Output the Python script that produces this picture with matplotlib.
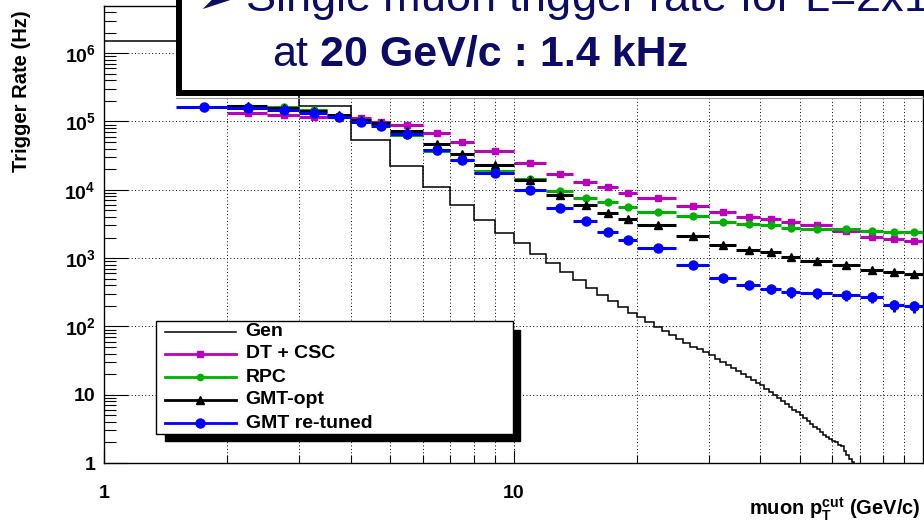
import numpy as np
import matplotlib
matplotlib.use('Agg')
from matplotlib import pyplot as plt
from matplotlib.patches import Rectangle
from matplotlib.lines import Line2D
from matplotlib.ticker import FixedLocator, FixedFormatter, NullFormatter

plt.rcParams['font.family'] = ['Liberation Sans', 'DejaVu Sans']
plt.rcParams['mathtext.fontset'] = 'custom'
plt.rcParams['mathtext.rm'] = 'Liberation Sans'
plt.rcParams['mathtext.bf'] = 'Liberation Sans:bold'
plt.rcParams['mathtext.it'] = 'Liberation Sans:italic'

# generated rate, 1 GeV bins from 1 to 69 GeV/c
gen_edges = np.arange(1, 70)
gen_rate = [1.5e6, 5.0e5, 1.69e5, 5.36e4, 2.25e4, 1.11e4, 5.99e3, 3.61e3, 2.35e3, 1.65e3,
            1.15e3, 839, 632, 478, 369, 288, 236, 190, 159, 136,
            116, 99, 86.6, 75.6, 66, 57.7, 50.5, 46.2, 42, 37.5,
            33.5, 30, 27, 24.5, 22, 20, 18, 16.5, 15, 14,
            12.3, 10.8, 9.8, 8.9, 8.1, 7.3, 6.6, 6.0, 5.5, 5.0,
            4.5, 4.1, 3.7, 3.4, 3.1, 2.85, 2.6, 2.4, 2.25, 2.1,
            2.0, 1.85, 1.75, 1.5, 1.3, 1.15, 1.05, 0.8]

# trigger threshold bins
pt_edges = [1.5, 2, 2.5, 3, 3.5, 4, 4.5, 5, 6, 7, 8, 10, 12, 14, 16, 18, 20,
            25, 30, 35, 40, 45, 50, 60, 70, 80, 90, 100]

dtcsc = [np.nan, 1.32e5, 1.24e5, 1.17e5, 1.15e5, 1.11e5, 9.9e4, 8.9e4, 6.7e4, 4.96e4,
         3.74e4, 2.44e4, 1.70e4, 1.31e4, 1.09e4, 9.07e3, 7.66e3, 5.72e3, 4.68e3, 4.04e3,
         3.7e3, 3.34e3, 3.05e3, 2.49e3, 2.06e3, 1.88e3, 1.8e3]
rpc = [np.nan, 1.62e5, 1.65e5, 1.48e5, 1.2e5, 1.05e5, 9.2e4, 6.3e4, 3.7e4, 2.7e4,
       1.88e4, 1.43e4, 9.6e3, 7.7e3, 6.56e3, 5.66e3, 4.78e3, 4.13e3, 3.34e3, 3.16e3,
       3.02e3, 2.79e3, 2.67e3, 2.64e3, 2.49e3, 2.44e3, 2.44e3]
gmt_opt = [np.nan, 1.67e5, 1.6e5, 1.43e5, 1.24e5, 1.05e5, 9.4e4, 7.3e4, 4.6e4, 3.3e4,
           2.28e4, 1.37e4, 8.4e3, 6.0e3, 4.56e3, 3.72e3, 3.05e3, 2.07e3, 1.57e3, 1.33e3,
           1.22e3, 1.05e3, 916, 800, 678, 615, 583]
gmt_retuned = [1.61e5, 1.56e5, 1.47e5, 1.35e5, 1.15e5, 9.9e4, 8.6e4, 6.5e4, 3.85e4, 2.73e4,
               1.78e4, 9.9e3, 5.47e3, 3.52e3, 2.44e3, 1.84e3, 1.42e3, 792, 506, 404,
               356, 318, 305, 284, 270, 206, 199]
# relative statistical errors visible on the re-tuned curve
gmt_retuned_err = [0, 0, 0, 0, 0, 0, 0, 0, 0, 0, 0, 0, 0, 0, 0, 0, 0, 0,
                   0.10, 0.13, 0.15, 0.17, 0.17, 0.18, 0.18, 0.2, 0.2]

series_labels = ['Gen', 'DT + CSC', 'RPC', 'GMT-opt', 'GMT re-tuned']

W, H = 924, 523


def fx(x):
    return x / W


def fy(y):
    return 1 - y / H


fig = plt.figure(figsize=(W / 100, H / 100), dpi=100)
ax = fig.add_axes([fx(104), fy(463), 819 / W, 457 / H])
ax.set_xscale('log')
ax.set_yscale('log')
ax.set_xlim(1, 100)
ax.set_ylim(1, 4.9e6)

# ROOT style dotted grid
grid_x = [2, 3, 4, 5, 6, 7, 8, 9, 10, 20, 30, 40, 50, 60, 70, 80, 90]
grid_y = [10, 1e2, 1e3, 1e4, 1e5, 1e6]
for g in grid_x:
    ax.axvline(g, color='k', lw=0.7, ls=(0, (1, 2.5)), zorder=0)
for g in grid_y:
    ax.axhline(g, color='k', lw=0.7, ls=(0, (1, 2.5)), zorder=0)

ax.stairs(gen_rate, gen_edges, baseline=None, color='k', lw=1.1, zorder=2)

pt_edges = np.array(pt_edges)
centers = (pt_edges[:-1] + pt_edges[1:]) / 2
half = (pt_edges[1:] - pt_edges[:-1]) / 2

ax.errorbar(centers, dtcsc, xerr=half, fmt='s', color='#bb00bb', ms=5, lw=2.2,
            capsize=0, zorder=3)
ax.errorbar(centers, rpc, xerr=half, fmt='o', color='#00b000', ms=5, lw=2.2,
            capsize=0, zorder=4)
ax.errorbar(centers, gmt_opt, xerr=half, fmt='^', color='k', ms=5.5, lw=2.2,
            capsize=0, zorder=5)
blue_err = np.array(gmt_retuned) * np.array(gmt_retuned_err)
ax.errorbar(centers, gmt_retuned, xerr=half, yerr=blue_err, fmt='o', color='#0000ff',
            ms=6.5, lw=2.2, capsize=0, zorder=6)

# ticks and labels
ax.yaxis.set_major_locator(FixedLocator([1, 10, 1e2, 1e3, 1e4, 1e5, 1e6]))
ax.yaxis.set_major_formatter(FixedFormatter(
    ['1', '10', r'$\mathbf{10^{2}}$', r'$\mathbf{10^{3}}$', r'$\mathbf{10^{4}}$',
     r'$\mathbf{10^{5}}$', r'$\mathbf{10^{6}}$']))
ax.yaxis.set_minor_formatter(NullFormatter())
ax.xaxis.set_major_locator(FixedLocator([1, 10]))
ax.xaxis.set_major_formatter(FixedFormatter(['1', '10']))
ax.xaxis.set_minor_formatter(NullFormatter())

ax.tick_params(axis='y', which='major', direction='in', length=17, width=0.8, pad=6,
               labelsize=14)
ax.tick_params(axis='y', which='minor', direction='in', length=8.5, width=0.8)
ax.tick_params(axis='x', which='major', direction='in', length=9.5, width=0.8, pad=16,
               labelsize=14)
ax.tick_params(axis='x', which='minor', direction='in', length=6, width=0.8)
for lab in ax.get_xticklabels() + ax.get_yticklabels():
    lab.set_fontweight('bold')
for s in ax.spines.values():
    s.set_linewidth(1.0)

fig.text(fx(22), fy(10), 'Trigger Rate (Hz)', rotation=90, ha='center', va='top',
         fontsize=14.5, fontweight='bold')
fig.text(fx(921), fy(509), r'muon $\mathbf{p_{T}^{cut}}$ (GeV/c)', ha='right',
         va='center', fontsize=14.5, fontweight='bold')

# legend drawn by hand, with the black ROOT shadow
lx0, lx1 = (155.7 - 104) / 819, (513.3 - 104) / 819
ly0, ly1 = (463 - 434) / 457, (463 - 320.7) / 457
sx0, sx1 = (165 - 104) / 819, (520 - 104) / 819
sy0, sy1 = (463 - 440.7) / 457, (463 - 330) / 457
ax.add_patch(Rectangle((sx0, sy0), sx1 - sx0, sy1 - sy0, transform=ax.transAxes,
                       fc='k', ec='k', zorder=8, clip_on=False))
ax.add_patch(Rectangle((lx0, ly0), lx1 - lx0, ly1 - ly0, transform=ax.transAxes,
                       fc='white', ec='k', lw=1.0, zorder=9, clip_on=False))
row_y = [(463 - y) / 457 for y in [331.7, 353.5, 377, 400, 423]]
styles = [(None, 'k', 0), ('s', '#bb00bb', 5), ('o', '#00b000', 4.5),
          ('^', 'k', 5.5), ('o', '#0000ff', 6.5)]
seg0, seg1, segm = (165 - 104) / 819, (236 - 104) / 819, (200 - 104) / 819
for label, yy, (mk, col, ms) in zip(series_labels, row_y, styles):
    ax.add_line(Line2D([seg0, seg1], [yy, yy], transform=ax.transAxes, color=col,
                       lw=1.1 if mk is None else 2, zorder=10, clip_on=False))
    if mk is not None:
        ax.add_line(Line2D([segm], [yy], transform=ax.transAxes, marker=mk, color=col,
                           ms=ms, ls='none', zorder=10, clip_on=False))
    ax.text((245.7 - 104) / 819, yy, label, transform=ax.transAxes, va='center',
            ha='left', fontsize=14, fontweight='bold', zorder=11)

# overlaid slide text box (its first line runs off the top of the slide crop)
fig.add_artist(Rectangle((fx(178.7), fy(93.3)), 1, 1, transform=fig.transFigure,
                         fc='white', ec='k', lw=4.3, zorder=20, clip_on=False))
fig.add_artist(Line2D([fx(176), 1], [fy(97.8), fy(97.8)], transform=fig.transFigure,
                      color='#9a9a9a', lw=0.8, zorder=20))
navy = '#0c0c66'
fig.text(fx(197), fy(13), '\u27a2', fontsize=30, color=navy, va='baseline',
         zorder=21, family=['DejaVu Sans'])
fig.text(fx(245), fy(13), r'Single muon trigger rate for L=2x10$^{33}$ cm$^{-2}$s$^{-1}$',
         fontsize=32.5, color=navy, va='baseline', zorder=21)
fig.text(fx(272), fy(66), 'at', fontsize=31, color=navy, va='baseline', zorder=21)
fig.text(fx(320), fy(66), '20 GeV/c : 1.4 kHz', fontsize=31, color=navy,
         fontweight='bold', va='baseline', zorder=21)

fig.savefig('out.png', dpi=100)
